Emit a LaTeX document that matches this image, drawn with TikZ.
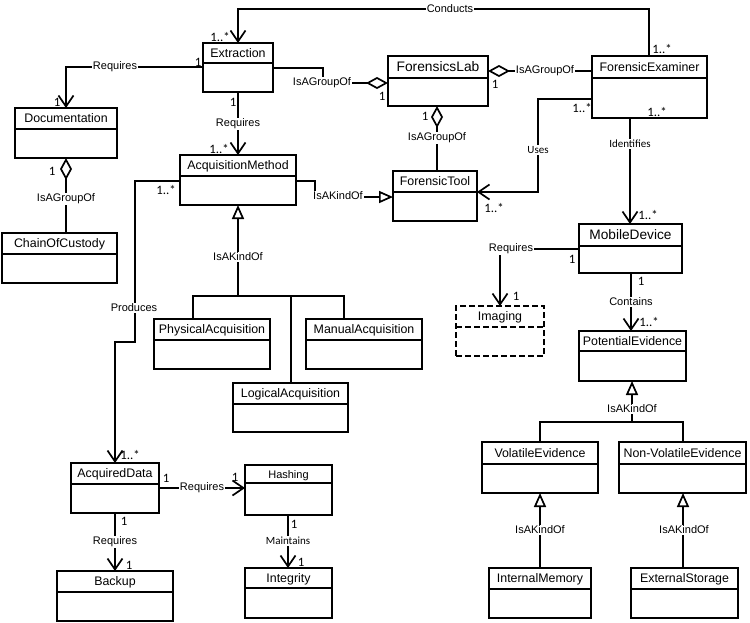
\documentclass[tikz,border=0pt]{standalone}
\usepackage{fontspec}
\setmainfont{Liberation Sans}
\newfontfamily\calib{Carlito}
\usetikzlibrary{arrows.meta,calc}
\tikzset{
  clsbox/.style={draw, line width=1.7pt, inner sep=0pt, outer sep=0pt},
  clsname/.style={inner sep=0pt, anchor=base, font=\fontsize{12.4}{14}\selectfont},
  conn/.style={line width=1.7pt, line join=miter},
  assoc/.style={conn, -{Straight Barb[length=11pt,width=15pt]}},
  aggr/.style={conn, -{Diamond[fill=white,length=22pt,width=12pt]}},
  gen/.style={conn, -{Triangle[fill=white,length=14pt,width=12pt]}},
  lbl/.style={fill=white, inner sep=1pt, font=\fontsize{11}{13}\selectfont},
  lblc/.style={fill=white, inner sep=1pt, font=\calib\fontsize{11}{13}\selectfont},
  mult/.style={inner sep=0pt, font=\calib\fontsize{12.8}{14}\selectfont},
  dashbox/.style={dash pattern=on 6pt off 3pt, line width=2.6pt}
}
\newcommand\umlclass[8][]{%
  \pgfmathsetmacro\clsw{#5-#3}%
  \pgfmathsetmacro\clsh{#6-#4}%
  \node[clsbox,#1,minimum width=\clsw pt,minimum height=\clsh pt,anchor=north west] (#2) at (#3,#4) {};
  \draw[clsbox,#1] (#3,#7) -- (#5,#7);
  \node[clsname] (#2-name) at ({(#3+#5)/2},{(#4+#7)/2+4.4}) {#8};
}
\begin{document}
\begin{tikzpicture}[x=1pt,y=-1pt]
\useasboundingbox (0,0) rectangle (750,622);
% classes
\umlclass{Ext}{203}{43}{273}{92}{63}{Extraction}
\umlclass{Doc}{15}{108}{117}{158}{129}{Documentation}
\umlclass{CoC}{2}{233}{117}{283}{254}{ChainOfCustody}
\umlclass{AM}{180}{155}{296}{205}{176}{AcquisitionMethod}
\umlclass{FL}{388}{56}{488}{106}{78}{\fontsize{13.8}{15}\selectfont ForensicsLab}
\umlclass{FT}{393}{171}{477}{221}{192}{ForensicTool}
\umlclass{FE}{592}{56}{707}{118}{78}{ForensicExaminer}
\umlclass{MD}{579}{224}{682}{273}{246}{\fontsize{13.7}{15}\selectfont MobileDevice}
\umlclass[dashbox]{Img}{456}{306}{544}{356}{327}{Imaging}
\umlclass{PE}{579}{331}{686}{381}{351}{PotentialEvidence}
\umlclass{VE}{482}{442}{598}{493}{464}{VolatileEvidence}
\umlclass{NVE}{619}{442}{746}{493}{464}{Non-VolatileEvidence}
\umlclass{IM}{489}{568}{591}{618}{589}{InternalMemory}
\umlclass{ES}{631}{568}{738}{618}{589}{ExternalStorage}
\umlclass{PA}{154}{319}{270}{369}{340}{PhysicalAcquisition}
\umlclass{MA}{306}{319}{422}{369}{340}{ManualAcquisition}
\umlclass{LA}{233}{383}{348}{432}{404}{LogicalAcquisition}
\umlclass{AD}{71}{463}{159}{513}{484}{AcquiredData}
\umlclass{Hash}{245}{465}{332}{515}{483}{\fontsize{11}{13}\selectfont Hashing}
\umlclass{Bk}{57}{571}{173}{621}{592}{Backup}
\umlclass{Int}{245}{568}{332}{618}{588}{Integrity}
% connectors
\draw[assoc] ($(FE.north west)+(57,0)$) -- ++(0,-47) -| ($(Ext.north west)+(35,0)$);
\draw[assoc] ($(Ext.north west)+(0,24)$) -| ($(Doc.north west)+(51,0)$);
\draw[assoc] ($(Ext.south west)+(35,0)$) -- ($(AM.north west)+(58,0)$);
\draw[aggr] ($(CoC.north west)+(64,0)$) -- ($(Doc.south west)+(51,0)$);
\draw[aggr] ($(Ext.north east)+(0,25)$) -- ++(50,0) |- ($(FL.north west)+(0,27)$);
\draw[aggr] ($(FE.north west)+(0,15)$) -- ($(FL.north east)+(0,15)$);
\draw[aggr] ($(FT.north west)+(44,0)$) -- ($(FL.south west)+(49,0)$);
\draw[gen] ($(AM.north east)+(0,26)$) -- ++(19,0) |- ($(FT.north west)+(0,26)$);
\draw[assoc] ($(FE.north west)+(0,43)$) -- ++(-54,0) |- ($(FT.north east)+(0,21)$);
\draw[assoc] ($(FE.south west)+(38,0)$) -- ($(MD.north west)+(51,0)$);
\draw[assoc] ($(MD.north west)+(0,25)$) -| ($(Img.north west)+(44,0)$);
\draw[assoc] ($(MD.south west)+(52,0)$) -- ($(PE.north west)+(52,0)$);
% generalization PE
\coordinate (peBar) at ($(PE.south west)+(53,41)$);
\draw[conn] ($(VE.north west)+(58,0)$) |- ($(NVE.north west)+(64,-20)$) -- ($(NVE.north west)+(64,0)$);
\draw[gen] (peBar) -- ($(PE.south west)+(53,0)$);
\draw[gen] ($(IM.north west)+(51,0)$) -- ($(VE.south west)+(58,0)$);
\draw[gen] ($(ES.north west)+(52,0)$) -- ($(NVE.south west)+(64,0)$);
% generalization AM
\coordinate (amBar) at ($(AM.south west)+(58,91)$);
\draw[conn] ($(PA.north west)+(39,0)$) |- ($(MA.north west)+(38,-23)$) -- ($(MA.north west)+(38,0)$);
\draw[conn] ($(LA.north west)+(58,0)$) -- ($(LA.north west)+(58,-87)$);
\draw[gen] (amBar) -- ($(AM.south west)+(58,0)$);
% produces
\draw[assoc] ($(AM.north west)+(0,26)$) -- ++(-45,0) -- ++(0,161) -- ++(-20,0) -- ($(AD.north west)+(44,0)$);
\draw[assoc] ($(AD.north east)+(0,25)$) -- ($(Hash.north west)+(0,23)$);
\draw[assoc] ($(AD.south west)+(44,0)$) -- ($(Bk.north west)+(58,0)$);
\draw[assoc] ($(Hash.south west)+(43,0)$) -- ($(Int.north west)+(43,0)$);
% labels
\node[lbl] (l1) at (450,9) {Conducts};
\node[lbl] (l2) at (115,67) {Requires};
\node[lbl] (l3) at (238,124) {Requires};
\node[lbl] (l4) at (66,199) {IsAGroupOf};
\node[lbl] (l5) at (322,83) {IsAGroupOf};
\node[lbl] (l6) at (545,71) {IsAGroupOf};
\node[lbl] (l7) at (437,138) {IsAGroupOf};
\node[lbl] (l8) at (338,196) {IsAKindOf};
\node[lblc] (l9) at (538,150) {Uses};
\node[lblc] (l10) at (630,144) {Identifies};
\node[lbl] (l11) at (511,249) {Requires};
\node[lbl] (l12) at (631,302) {Contains};
\node[lbl] (l13) at (632,409) {IsAKindOf};
\node[lbl] (l14) at (540,530) {IsAKindOf};
\node[lbl] (l15) at (684,530) {IsAKindOf};
\node[lbl] (l16) at (238,257) {IsAKindOf};
\node[lbl] (l17) at (134,308) {Produces};
\node[lbl] (l18) at (202,488) {Requires};
\node[lbl] (l19) at (115,542) {Requires};
\node[lblc] (l20) at (288,541) {Maintains};
% multiplicities
\node[mult] (m1) at (220,37) {1..*};
\node[mult] (m2) at (662,49) {1..*};
\node[mult] (m3) at (198,62) {1};
\node[mult] (m4) at (57,102) {1};
\node[mult] (m5) at (233,102) {1};
\node[mult] (m6) at (219,149) {1..*};
\node[mult] (m7) at (52,171) {1};
\node[mult] (m8) at (382,96) {1};
\node[mult] (m9) at (495,84) {1};
\node[mult] (m10) at (425,116) {1};
\node[mult] (m11) at (582,108) {1..*};
\node[mult] (m12) at (494,208) {1..*};
\node[mult] (m13) at (657,112) {1..*};
\node[mult] (m14) at (648,215) {1..*};
\node[mult] (m15) at (572,259) {1};
\node[mult] (m16) at (516,296) {1};
\node[mult] (m17) at (641,281) {1};
\node[mult] (m18) at (649,322) {1..*};
\node[mult] (m19) at (166,190) {1..*};
\node[mult] (m20) at (130,455) {1..*};
\node[mult] (m21) at (166,478) {1};
\node[mult] (m22) at (235,477) {1};
\node[mult] (m23) at (124,521) {1};
\node[mult] (m24) at (129,565) {1};
\node[mult] (m25) at (294,524) {1};
\node[mult] (m26) at (301,562) {1};
\end{tikzpicture}
\end{document}
